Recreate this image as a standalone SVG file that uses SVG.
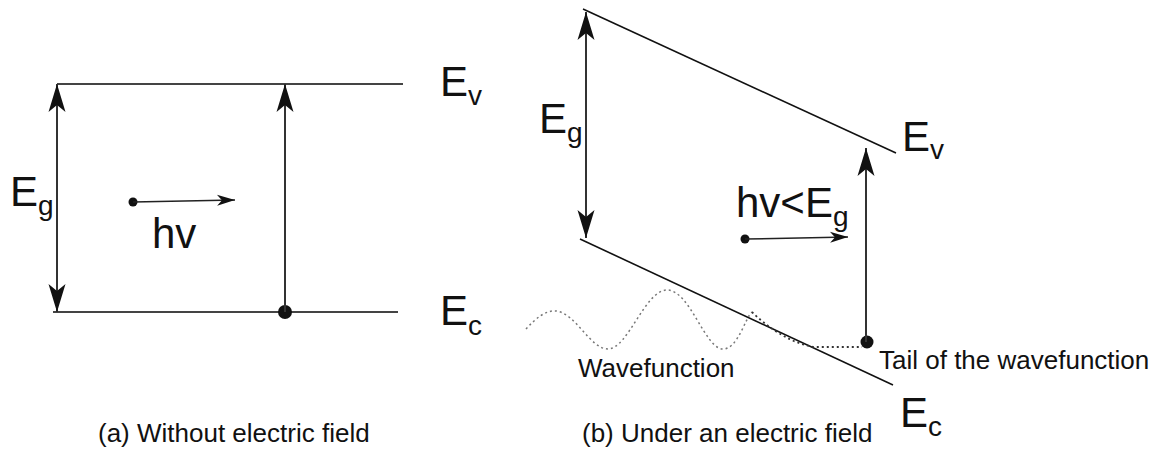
<svg xmlns="http://www.w3.org/2000/svg" width="1166" height="450" viewBox="0 0 1166 450">
<style>
text{font-family:"Liberation Sans",Arial,sans-serif;fill:#111}
.big{font-size:42px}
.sub{font-size:28px}
.small{font-size:26px}
.band{stroke:#444;stroke-width:2;fill:none}
.slope{stroke:#111;stroke-width:1.6;fill:none}
.arr{stroke:#333;stroke-width:2;fill:none}
.ph{stroke:#222;stroke-width:1.5;fill:none}
.wave{stroke:#777;stroke-width:1.5;fill:none;stroke-dasharray:2 3}
.tail{stroke:#333;stroke-width:1.8;fill:none;stroke-dasharray:2 3}
</style>
<defs>
<marker id="big" viewBox="-30 -10 32 20" refX="0" refY="0" markerWidth="32" markerHeight="20" markerUnits="userSpaceOnUse" orient="auto-start-reverse">
<path d="M0,0 L-28,-8.5 L-21,0 L-28,8.5 Z" fill="#111"/>
</marker>
<marker id="sm" viewBox="-20 -8 22 16" refX="0" refY="0" markerWidth="22" markerHeight="16" markerUnits="userSpaceOnUse" orient="auto">
<path d="M0,0 L-18,-5.5 L-13,0 L-18,5.5 Z" fill="#111"/>
</marker>
</defs>

<g id="panel-a">
<g id="a-Ev"><line class="band" x1="57" y1="84" x2="403" y2="84"/>
<text class="big" x="440" y="96">E<tspan class="sub" dy="9">v</tspan></text></g>
<g id="a-Ec"><line class="band" x1="53" y1="312" x2="398" y2="312"/>
<text class="big" x="440" y="325">E<tspan class="sub" dy="10">c</tspan></text></g>
<g id="a-Eg"><text class="big" x="10" y="206">E<tspan class="sub" dy="9">g</tspan></text></g>
<g id="a-photon"><circle cx="133" cy="202" r="4.5" fill="#111"/>
<text class="big" x="152" y="248">hv</text></g>
<g id="a-electron"><circle cx="285" cy="312" r="7" fill="#111"/></g>
<g id="a-caption"><text class="small" x="98" y="442">(a) Without electric field</text></g>
</g>

<g id="panel-b">
<g id="b-Ev"><line class="slope" x1="583" y1="9" x2="896" y2="153"/>
<text class="big" x="902" y="151">E<tspan class="sub" dy="8">v</tspan></text></g>
<g id="b-Ec"><line class="slope" x1="580" y1="239" x2="893" y2="385"/>
<text class="big" x="900" y="427">E<tspan class="sub" dy="9">c</tspan></text></g>
<g id="b-Eg"><text class="big" x="539" y="133">E<tspan class="sub" dy="9">g</tspan></text></g>
<g id="b-photon"><circle cx="745" cy="239" r="4.5" fill="#111"/>
<text class="big" x="736" y="217">hv&lt;E<tspan class="sub" dy="9">g</tspan></text></g>
<g id="b-wave"><path class="wave" d="M526,329 C536,318 546,310 556,311 C576,313 590,349 608,349 C628,349 645,290 667,290 C690,290 705,349 723,349 C738,349 745,318 752,312"/>
<path class="tail" d="M752,312 C765,325 790,344 815,347 L862,347"/>
<text class="small" x="578" y="377">Wavefunction</text></g>
<g id="b-electron"><circle cx="867" cy="342" r="6.5" fill="#111"/>
<text class="small" x="879" y="369">Tail of the wavefunction</text></g>
<g id="b-caption"><text class="small" x="582" y="442">(b) Under an electric field</text></g>
</g>

<g id="connectors">
<line class="arr" x1="57" y1="84" x2="57" y2="312" marker-start="url(#big)" marker-end="url(#big)"/>
<line class="arr" x1="285" y1="312" x2="285" y2="84" marker-end="url(#big)"/>
<line class="ph" x1="133" y1="202" x2="235" y2="200" marker-end="url(#sm)"/>
<line class="arr" x1="586" y1="12" x2="586" y2="238" marker-start="url(#big)" marker-end="url(#big)"/>
<line class="arr" x1="866" y1="342" x2="866" y2="148" stroke="#666" marker-end="url(#big)"/>
<line class="ph" x1="745" y1="239" x2="848" y2="237" marker-end="url(#sm)"/>
</g>
</svg>
